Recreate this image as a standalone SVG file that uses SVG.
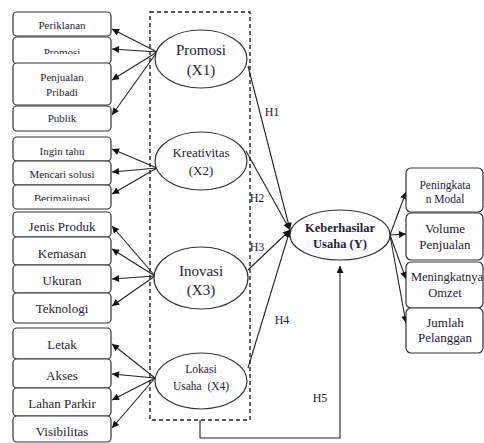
<svg xmlns="http://www.w3.org/2000/svg" width="484" height="443" viewBox="0 0 484 443">
<defs>
<marker id="ah" viewBox="0 0 10 10" refX="10" refY="5" markerWidth="8" markerHeight="7" markerUnits="userSpaceOnUse" orient="auto">
<path d="M0,0 L10,5 L0,10 z" fill="#111"/>
</marker>
<clipPath id="clipBer"><rect x="13" y="185" width="98" height="16"/></clipPath>
<clipPath id="clipPro"><rect x="13" y="37" width="98" height="17"/></clipPath>
</defs>
<style>
text{font-family:"Liberation Serif","Times New Roman",serif;fill:#1e2233;text-anchor:middle}
.box{fill:#fff;stroke:#333;stroke-width:1.2}
.ell{fill:#fff;stroke:#333;stroke-width:1.2}
.ln{stroke:#222;stroke-width:1.1;fill:none;marker-end:url(#ah)}
.s11{font-size:11px}
.s12{font-size:12px}
.s13{font-size:13px}
.s15{font-size:15px}
</style>
<rect width="484" height="443" fill="#fff"/>

<rect x="150" y="12" width="100" height="408" fill="none" stroke="#222" stroke-width="1.4" stroke-dasharray="4,3"/>

<g id="connectors">
<line class="ln" x1="157" y1="52" x2="112" y2="29"/>
<line class="ln" x1="157" y1="52" x2="112" y2="49"/>
<line class="ln" x1="157" y1="52" x2="112" y2="80"/>
<line class="ln" x1="157" y1="52" x2="112" y2="115"/>
<line class="ln" x1="157" y1="168" x2="112" y2="149"/>
<line class="ln" x1="157" y1="168" x2="112" y2="172"/>
<line class="ln" x1="157" y1="168" x2="112" y2="194"/>
<line class="ln" x1="155" y1="276" x2="112" y2="226"/>
<line class="ln" x1="155" y1="276" x2="112" y2="249"/>
<line class="ln" x1="155" y1="276" x2="112" y2="279"/>
<line class="ln" x1="155" y1="276" x2="112" y2="306"/>
<line class="ln" x1="155" y1="378" x2="112" y2="344"/>
<line class="ln" x1="155" y1="378" x2="112" y2="374"/>
<line class="ln" x1="155" y1="378" x2="112" y2="400"/>
<line class="ln" x1="155" y1="378" x2="112" y2="428"/>
<line class="ln" x1="248" y1="66" x2="290" y2="230"/>
<line class="ln" x1="246" y1="151" x2="290" y2="230"/>
<line class="ln" x1="248" y1="270" x2="290" y2="230"/>
<line class="ln" x1="248" y1="368" x2="290" y2="230"/>
<line class="ln" x1="390" y1="235" x2="406" y2="192"/>
<line class="ln" x1="390" y1="235" x2="406" y2="234"/>
<line class="ln" x1="390" y1="235" x2="406" y2="279"/>
<line class="ln" x1="390" y1="235" x2="406" y2="323"/>
<path class="ln" d="M200,420 V438 H340 V266" stroke-width="1.5"/>
<text class="s12" x="272" y="116">H1</text>
<text class="s12" x="257" y="202">H2</text>
<text class="s12" x="257" y="251">H3</text>
<text class="s12" x="282" y="324">H4</text>
<text class="s12" x="320" y="402">H5</text>
</g>

<g id="periklanan"><rect class="box" x="13" y="12" width="98" height="24" rx="4"/><text class="s11" x="62" y="29">Periklanan</text></g>
<g id="promosi-ind"><rect class="box" x="13" y="37" width="98" height="27" rx="4"/><text class="s11" x="62" y="55.5" clip-path="url(#clipPro)">Promosi</text></g>
<g id="penjualan"><rect class="box" x="13" y="63" width="98" height="42" rx="4"/><text class="s11" x="62" y="81">Penjualan</text><text class="s11" x="62" y="96">Pribadi</text></g>
<g id="publik"><rect class="box" x="13" y="106" width="98" height="25" rx="4"/><text class="s11" x="62" y="122">Publik</text></g>

<g id="ingin"><rect class="box" x="13" y="137" width="98" height="24" rx="4"/><text class="s11" x="62" y="154.5">Ingin tahu</text></g>
<g id="mencari"><rect class="box" x="13" y="161" width="98" height="24" rx="4"/><text class="s11" x="62" y="178">Mencari solusi</text></g>
<g id="berimajinasi"><rect class="box" x="13" y="185" width="98" height="24" rx="4"/><text class="s11" x="62" y="202.3" clip-path="url(#clipBer)">Berimajinasi</text></g>

<g id="jenis"><rect class="box" x="13" y="212" width="98" height="25" rx="4"/><text class="s13" x="62" y="230.5">Jenis Produk</text></g>
<g id="kemasan"><rect class="box" x="13" y="237" width="98" height="28" rx="4"/><text class="s13" x="62" y="257.5">Kemasan</text></g>
<g id="ukuran"><rect class="box" x="13" y="265" width="98" height="28" rx="4"/><text class="s13" x="62" y="284.5">Ukuran</text></g>
<g id="teknologi"><rect class="box" x="13" y="293" width="98" height="30" rx="4"/><text class="s13" x="62" y="312.5">Teknologi</text></g>

<g id="letak"><rect class="box" x="13" y="328" width="98" height="31" rx="4"/><text class="s13" x="62" y="348.5">Letak</text></g>
<g id="akses"><rect class="box" x="13" y="359" width="98" height="29" rx="4"/><text class="s13" x="62" y="379.5">Akses</text></g>
<g id="lahan"><rect class="box" x="13" y="388" width="98" height="28" rx="4"/><text class="s13" x="62" y="407.5">Lahan Parkir</text></g>
<g id="visibilitas"><rect class="box" x="13" y="416" width="98" height="26" rx="4"/><text class="s13" x="62" y="435.5">Visibilitas</text></g>

<g id="x1"><ellipse class="ell" cx="201" cy="59" rx="46" ry="29"/><text class="s15" x="201" y="55">Promosi</text><text class="s15" x="201" y="75">(X1)</text></g>
<g id="x2"><ellipse class="ell" cx="201" cy="161" rx="46" ry="29"/><text class="s13" x="201" y="156.5">Kreativitas</text><text class="s13" x="201" y="174.5">(X2)</text></g>
<g id="x3"><ellipse class="ell" cx="201" cy="278" rx="47" ry="31"/><text class="s15" x="201" y="276">Inovasi</text><text class="s15" x="201" y="295">(X3)</text></g>
<g id="x4"><ellipse class="ell" cx="201" cy="381" rx="46" ry="28"/><text x="201" y="373" font-size="11.5">Lokasi</text><text x="201" y="390" font-size="11.5" xml:space="preserve">Usaha  (X4)</text></g>

<g id="y"><ellipse class="ell" cx="340" cy="235" rx="50" ry="25"/><text x="340" y="232" font-size="12.5" font-weight="bold">Keberhasilar</text><text x="340" y="248" font-size="12.5" font-weight="bold">Usaha (Y)</text></g>

<g id="modal"><rect class="box" x="406" y="168" width="77" height="44" rx="5"/><text x="445" y="189" font-size="11.5">Peningkata</text><text x="445" y="203" font-size="11.5">n Modal</text></g>
<g id="volume"><rect class="box" x="406" y="213" width="77" height="47" rx="5"/><text class="s13" x="445" y="233">Volume</text><text class="s13" x="445" y="249">Penjualan</text></g>
<g id="omzet"><rect class="box" x="406" y="262" width="77" height="46" rx="5"/><text x="447" y="281" font-size="12.5">Meningkatnya</text><text x="445" y="297" font-size="12.5">Omzet</text></g>
<g id="pelanggan"><rect class="box" x="406" y="308" width="77" height="45" rx="5"/><text class="s13" x="445" y="327">Jumlah</text><text class="s13" x="445" y="342">Pelanggan</text></g>
</svg>
